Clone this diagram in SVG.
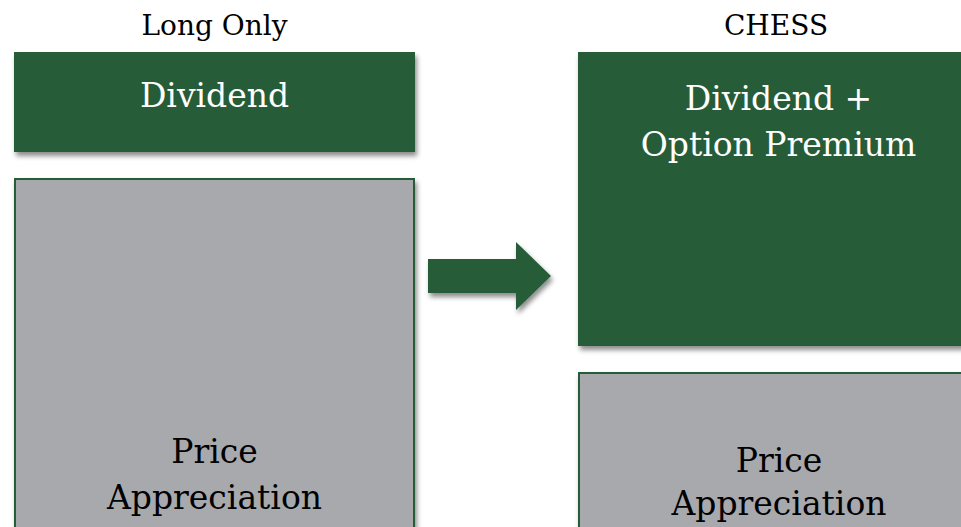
<svg xmlns="http://www.w3.org/2000/svg" width="961" height="527" viewBox="0 0 961 527">
<defs>
<filter id="sh" x="-10%" y="-10%" width="130%" height="130%">
<feDropShadow dx="2" dy="4" stdDeviation="2.5" flood-color="#000" flood-opacity="0.45"/>
</filter>
</defs>
<style>
.green{fill:#255D37;filter:url(#sh)}
.gray{fill:#A8A9AD;stroke:#255D37;stroke-width:2;filter:url(#sh)}
.title{font-family:"DejaVu Serif",serif;font-size:28px;fill:#000;text-anchor:middle}
.lw{font-family:"DejaVu Serif",serif;font-size:33px;fill:#fff;text-anchor:middle}
.lb{font-family:"DejaVu Serif",serif;font-size:33px;fill:#000;text-anchor:middle}
</style>
<rect width="961" height="527" fill="#fff"/>
<text class="title" x="214.5" y="35">Long Only</text>
<text class="title" x="776" y="35">CHESS</text>
<g id="long-dividend">
<rect class="green" x="14" y="52" width="401" height="100"/>
<text class="lw" x="214.5" y="107">Dividend</text>
</g>
<g id="long-price">
<rect class="gray" x="15" y="179" width="399" height="380"/>
<text class="lb" x="214.5" y="463">Price</text>
<text class="lb" x="214.5" y="509">Appreciation</text>
</g>
<g id="connectors">
<polygon class="green" points="428,259 516,259 516,242 551,276 516,310 516,293 428,293"/>
</g>
<g id="chess-dividend">
<rect class="green" x="578" y="52" width="401" height="294"/>
<text class="lw" x="778.5" y="110">Dividend +</text>
<text class="lw" x="778.5" y="156">Option Premium</text>
</g>
<g id="chess-price">
<rect class="gray" x="579" y="373" width="399" height="200"/>
<text class="lb" x="779" y="472">Price</text>
<text class="lb" x="779" y="515">Appreciation</text>
</g>
</svg>
